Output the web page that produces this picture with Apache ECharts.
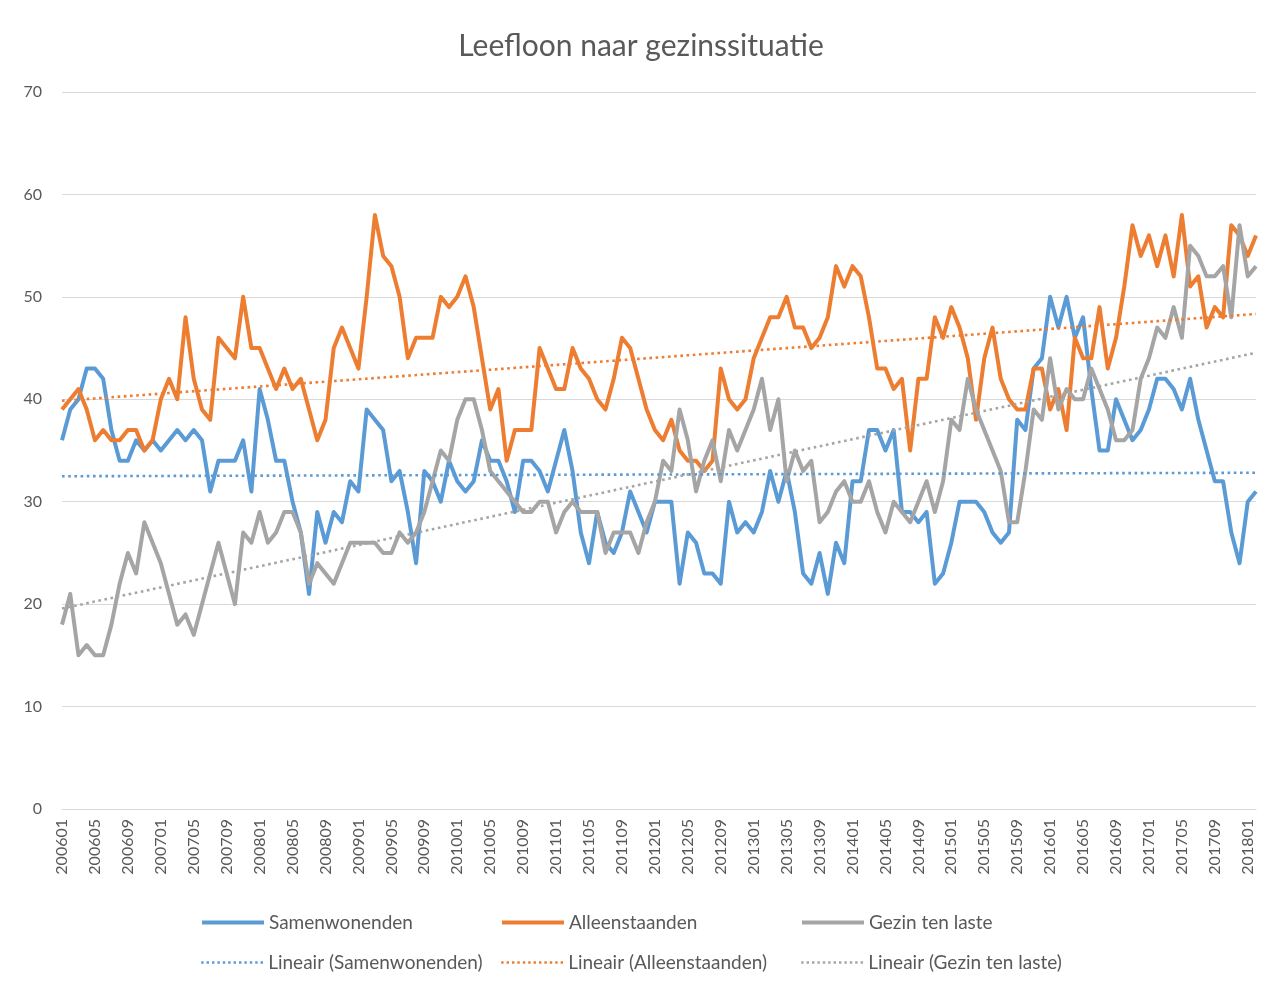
<!DOCTYPE html>
<html>
<head>
<meta charset="utf-8">
<script src="https://cdn.jsdelivr.net/npm/echarts@6/dist/echarts.min.js"></script>
<style>
  html, body { margin: 0; padding: 0; background: #fff; }
  #chart { width: 1282px; height: 984px; }
</style>
</head>
<body>
<div id="chart"></div>
<script>
// maanden 200601 .. 201802
var months = [];
for (var y = 2006; y <= 2018; y++) {
    for (var m = 1; m <= 12; m++) {
        if (y === 2018 && m > 2) break;
        months.push(String(y) + (m < 10 ? '0' + m : m));
    }
}

var samenwonenden = [
    36, 39, 40, 43, 43, 42, 37, 34, 34, 36, 35, 36, 35, 36, 37, 36, 37, 36, 31, 34,
    34, 34, 36, 31, 41, 38, 34, 34, 30, 27, 21, 29, 26, 29, 28, 32, 31, 39, 38, 37,
    32, 33, 29, 24, 33, 32, 30, 34, 32, 31, 32, 36, 34, 34, 32, 29, 34, 34, 33, 31,
    34, 37, 33, 27, 24, 29, 26, 25, 27, 31, 29, 27, 30, 30, 30, 22, 27, 26, 23, 23,
    22, 30, 27, 28, 27, 29, 33, 30, 33, 29, 23, 22, 25, 21, 26, 24, 32, 32, 37, 37,
    35, 37, 29, 29, 28, 29, 22, 23, 26, 30, 30, 30, 29, 27, 26, 27, 38, 37, 43, 44,
    50, 47, 50, 46, 48, 41, 35, 35, 40, 38, 36, 37, 39, 42, 42, 41, 39, 42, 38, 35,
    32, 32, 27, 24, 30, 31
];

var alleenstaanden = [
    39, 40, 41, 39, 36, 37, 36, 36, 37, 37, 35, 36, 40, 42, 40, 48, 42, 39, 38, 46,
    45, 44, 50, 45, 45, 43, 41, 43, 41, 42, 39, 36, 38, 45, 47, 45, 43, 50, 58, 54,
    53, 50, 44, 46, 46, 46, 50, 49, 50, 52, 49, 44, 39, 41, 34, 37, 37, 37, 45, 43,
    41, 41, 45, 43, 42, 40, 39, 42, 46, 45, 42, 39, 37, 36, 38, 35, 34, 34, 33, 34,
    43, 40, 39, 40, 44, 46, 48, 48, 50, 47, 47, 45, 46, 48, 53, 51, 53, 52, 48, 43,
    43, 41, 42, 35, 42, 42, 48, 46, 49, 47, 44, 38, 44, 47, 42, 40, 39, 39, 43, 43,
    39, 41, 37, 46, 44, 44, 49, 43, 46, 51, 57, 54, 56, 53, 56, 52, 58, 51, 52, 47,
    49, 48, 57, 56, 54, 56
];

var gezinTenLaste = [
    18, 21, 15, 16, 15, 15, 18, 22, 25, 23, 28, 26, 24, 21, 18, 19, 17, 20, 23, 26,
    23, 20, 27, 26, 29, 26, 27, 29, 29, 27, 22, 24, 23, 22, 24, 26, 26, 26, 26, 25,
    25, 27, 26, 27, 29, 32, 35, 34, 38, 40, 40, 37, 33, 32, 31, 30, 29, 29, 30, 30,
    27, 29, 30, 29, 29, 29, 25, 27, 27, 27, 25, 28, 30, 34, 33, 39, 36, 31, 34, 36,
    32, 37, 35, 37, 39, 42, 37, 40, 32, 35, 33, 34, 28, 29, 31, 32, 30, 30, 32, 29,
    27, 30, 29, 28, 30, 32, 29, 32, 38, 37, 42, 39, 37, 35, 33, 28, 28, 33, 39, 38,
    44, 39, 41, 40, 40, 43, 41, 39, 36, 36, 37, 42, 44, 47, 46, 49, 46, 55, 54, 52,
    52, 53, 48, 57, 52, 53
];

var seriesNames = ['Samenwonenden', 'Alleenstaanden', 'Gezin ten laste'];
var colors = ['#5B9BD5', '#ED7D31', '#A5A5A5'];

// lineaire trendlijn (kleinste kwadraten), zoals Excel
function trend(values) {
    var n = values.length, sx = 0, sy = 0, sxy = 0, sxx = 0;
    for (var i = 0; i < n; i++) {
        sx += i; sy += values[i]; sxy += i * values[i]; sxx += i * i;
    }
    var b = (n * sxy - sx * sy) / (n * sxx - sx * sx);
    var a = (sy - b * sx) / n;
    return values.map(function (v, i) { return +(a + b * i).toFixed(3); });
}

var allData = [samenwonenden, alleenstaanden, gezinTenLaste];
var font = 'Lato, "Open Sans", sans-serif';

var series = [];
allData.forEach(function (d, k) {
    series.push({
        name: seriesNames[k],
        type: 'line',
        data: d,
        symbol: 'none',
        lineStyle: { color: colors[k], width: 4, join: 'round' },
        itemStyle: { color: colors[k] },
        z: 2 + k
    });
});
allData.forEach(function (d, k) {
    series.push({
        name: 'Lineair (' + seriesNames[k] + ')',
        type: 'line',
        data: trend(d),
        symbol: 'none',
        lineStyle: { color: colors[k], width: 2.6, type: [2.6, 3.6] },
        itemStyle: { color: colors[k] },
        z: 6 + k
    });
});

var legendLeft = [200, 500, 800];
var legends = [];
for (var r = 0; r < 2; r++) {
    for (var c = 0; c < 3; c++) {
        legends.push({
            data: [r === 0 ? seriesNames[c] : 'Lineair (' + seriesNames[c] + ')'],
            left: legendLeft[c],
            top: r === 0 ? 913 : 953,
            padding: 0,
            itemWidth: 62,
            itemHeight: 20,
            itemGap: 5,
            selectedMode: false,
            itemStyle: { opacity: 0 },
            lineStyle: r === 0 ? { width: 4 } : { width: 2.4, type: [2.4, 3] },
            textStyle: { color: '#595959', fontSize: 19, fontFamily: font }
        });
    }
}

var chart = echarts.init(document.getElementById('chart'));
chart.setOption({
    animation: false,
    backgroundColor: '#fff',
    title: {
        text: 'Leefloon naar gezinssituatie',
        left: 'center',
        top: 26,
        textStyle: { color: '#595959', fontSize: 30, fontWeight: 'normal', fontFamily: font }
    },
    legend: legends,
    grid: { left: 62, right: 26, top: 92, bottom: 175, containLabel: false },
    xAxis: {
        type: 'category',
        data: months,
        boundaryGap: false,
        axisLine: { lineStyle: { color: '#D9D9D9', width: 1 } },
        axisTick: { show: false },
        axisLabel: {
            interval: 3,
            rotate: 90,
            margin: 10,
            color: '#595959',
            fontSize: 16,
            fontFamily: font
        },
        splitLine: { show: false }
    },
    yAxis: {
        type: 'value',
        min: 0,
        max: 70,
        interval: 10,
        axisLine: { show: false },
        axisTick: { show: false },
        axisLabel: { color: '#595959', fontSize: 16, margin: 20, fontFamily: font },
        splitLine: { lineStyle: { color: '#D9D9D9', width: 1 } }
    },
    series: series
});
</script>
</body>
</html>
